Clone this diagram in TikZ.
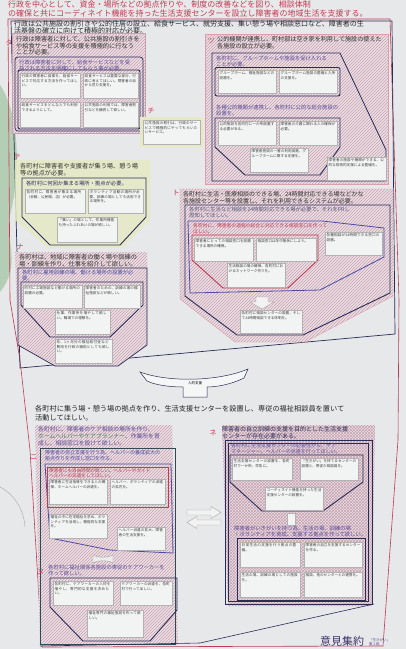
\documentclass[tikz,border=0pt]{standalone}
\usepackage{fontspec}
\setmainfont{Noto Sans CJK JP}
\XeTeXlinebreaklocale "ja"
\XeTeXlinebreakskip=0pt plus 1pt
\usetikzlibrary{patterns}
\definecolor{paper}{HTML}{E6E8E9}
\definecolor{redc}{HTML}{C23A52}
\definecolor{navy}{HTML}{2A2C58}
\definecolor{purp}{HTML}{5B4B9B}
\definecolor{bluep}{HTML}{4B4BA6}
\definecolor{hatchc}{HTML}{C4A0B0}
\definecolor{pinkbg}{HTML}{ECE0E4}
\definecolor{cellc}{HTML}{F2F3F3}
\definecolor{yel}{HTML}{E6EAC2}
\definecolor{tealc}{HTML}{2E4B55}
\definecolor{greent}{HTML}{3E7A5E}
\tikzset{
 hatch/.style={fill=pinkbg, postaction={pattern=north east lines, pattern color=hatchc}},
 checker/.style={fill=pinkbg, postaction={pattern=crosshatch, pattern color=hatchc}},
 cellf/.style={draw=gray!60, line width=0.3pt, fill=cellc, inner sep=0pt, outer sep=0pt},
 cellt/.style={inner sep=0pt, align=left, font=\fontsize{3.6}{4.3}\selectfont, text=black!75},
 hdr/.style={text=redc, font=\fontsize{8}{9}\selectfont, anchor=west, inner sep=0pt},
 stmt/.style={text=black!85, font=\fontsize{7}{6.9}\selectfont, anchor=north west, align=left, inner sep=0pt},
 sect/.style={text=black!80, font=\fontsize{6.2}{6.6}\selectfont, anchor=north west, align=left, inner sep=0pt},
 subt/.style={text=purp, font=\fontsize{5.3}{5.9}\selectfont, anchor=north west, align=left, inner sep=0pt},
 lbl/.style={text=redc, font=\fontsize{7}{7}\selectfont, inner sep=0pt},
 navyl/.style={draw=navy, line width=0.8pt},
}
\newcommand{\cbx}[6]{%
 \pgfmathsetmacro{\cbw}{#4-#2}%
 \pgfmathsetmacro{\cbh}{#5-#3}%
 \pgfmathsetmacro{\cbt}{#4-#2-3}%
 \node[cellf,minimum width=\cbw pt,minimum height=\cbh pt,anchor=north west] (#1) at (#2,#3) {};%
 \node[cellt,text width=\cbt pt,anchor=north west] (#1t) at ([xshift=1.5pt,yshift=-1.5pt]#1.north west) {#6};%
}
\begin{document}
\begin{tikzpicture}[x=1pt,y=-1pt]
\useasboundingbox (0,0) rectangle (406,649);
\fill[paper] (0,0) rectangle (406,649);
% green leaves on the left
\fill[green!45!black, opacity=0.22] (0,85) .. controls (18,110) and (22,170) .. (10,215) .. controls (5,240) and (22,265) .. (0,292) -- cycle;
\draw[gray!70, line width=0.4pt] (0,487) .. controls (15,495) and (24,510) .. (25,527);

% red header
\node[hdr] (h1) at (8,4.5) {行政を中心として、資金・場所などの拠点作りや、制度の改善などを図り、相談体制};
\node[hdr] (h2) at (8,13) {の確保と共にコーディネイト機能を持った生活支援センターを設立し障害者の地域生活を支援する。};

% red page frame
\draw[redc, line width=0.6pt] (8,19) -- (390,19) -- (399,300) -- (398,440) -- (383,646) -- (42,647) -- (30,450) -- (20,360) -- (10,300) -- cycle;
% dark upper frame
\draw[navy, line width=0.7pt] (11,21) -- (392,21) -- (395,334) -- (20,368) -- cycle;
\node[stmt] (st) at (14,20.5) {行政は公共施設の割引きや公的住居の設立、給食サービス、就労支援、集い憩う場や相談窓口など、障害者の生\\活基盤の確立に向けて積極的対応が必要。};

% ---- タ ----
\path[hatch] (12,33) rectangle (145,133);
\draw[hatchc, line width=0.4pt] (12,33) rectangle (145,133);
\node[lbl] (lta) at (9,43) {タ};
\node[sect] (tatx) at (16,36) {行政は障害者に対して、公共施設の割引きを\\や給食サービス等の支援を積極的に行なう\\ことが必要。};
\draw[navy, line width=0.7pt, rounded corners=3pt] (15,57) rectangle (143,131);
\node[subt] (tasub) at (19,59.5) {行政は障害者に対して、給食サービスなどを受\\益される方法を明確にしてもらう事が必要。};
\draw[navy, line width=0.9pt, rounded corners=2pt] (18,70) rectangle (140,129);
\cbx{ta1}{20}{73}{80}{98}{行政の障害者に食事を、給食サービスで対応する方法を作ってほしい。}
\cbx{ta2}{83}{73}{138}{98}{給食サービスは重要な部分、行政に考えてほしい。障害者の目から見た支援を。}
\cbx{ta3}{20}{102}{80}{127}{給食サービスをどんな人でも利用できるようにして。}
\cbx{ta4}{83}{102}{138}{127}{公共施設の利用では、障害者割引などを継続して欲しい。}

% ---- チ ----
\node[lbl] (lchi) at (151,111) {チ};
\fill[yel] (140,117) rectangle (203,147);
\cbx{chi1}{143}{120}{200}{144}{公共施設の割引は、行政のサービスで積極的にやってもらいたいサービス。}

% ---- ツ ----
\path[hatch] (205,34) rectangle (388,184);
\draw[redc!50, line width=0.4pt] (205,34) rectangle (388,184);
\node[lbl] (ltsu) at (211,41) {ツ};
\node[sect, font=\fontsize{6.1}{6.4}\selectfont] (tsutx) at (217,36.5) {公的機関が連携し、町村部は空き家を利用して施設の使えた\\各施設の設立が必要。};
\draw[navyl] (212,53) -- (340,53) -- (386,150) -- (386,181) -- (212,181) -- cycle;
\node[subt] (tsusub1) at (216,55.5) {各町村に、グループホームや施設を受け入れる\\ことが必要。};
\draw[navy, line width=0.9pt, rounded corners=2pt] (215,67.5) rectangle (340,96);
\cbx{tsu1}{218}{70}{276}{93}{グループホーム、福祉施設などの設置を。}
\cbx{tsu2}{279}{70}{337}{93}{グループホーム施設の整備と入所の支援を。}
\node[subt] (tsusub2) at (216,105) {各種公的機関が連携し、各町村に公的な総合施設の\\設置を。};
\draw[navy, line width=0.9pt] (215,118) -- (340,118) -- (340,147) -- (320,175) -- (245,175) -- (215,147) -- cycle;
\cbx{tsu3}{218}{121}{276}{145}{公的施設を各町村に一か所設置する必要がある。}
\cbx{tsu4}{279}{121}{337}{145}{障害者の介護に関わる人の確保が必要。}
\cbx{tsu5}{250}{148}{308}{172}{障害者施設の一層の利用促進、グループホームに関する支援を。}
\cbx{tsu6}{327}{157}{386}{180}{障害者の施設や機関ができる、公的な財政的支援による整備を。}

% ---- テ ----
\node[lbl] (lte) at (17,157) {テ};
\fill[yel, opacity=0.8] (15,160) -- (150,160) -- (150,220) -- (122,248) -- (48,248) -- (15,220) -- cycle;
\node[sect] (tetx) at (20,163) {各町村に障害者や支援者が集う場、憩う場\\等の拠点が必要。};
\draw[navy, line width=0.9pt] (22,178) -- (146,178) -- (146,217) -- (120,245) -- (50,245) -- (22,217) -- cycle;
\node[subt, text=navy] (tesub) at (26,180.5) {各町村に何回か集まる場所・拠点が必要。};
\cbx{te1}{25}{189}{85}{213}{各町村に、障害者が集まる場所（会館、公民館、店）が必要。}
\cbx{te2}{88}{189}{143}{213}{ボランティア活動の場所が必要、訓練の場としても活用できる場所を。}
\cbx{te3}{57}{217}{117}{242}{「集い」の場として、作業所機能も持ったふれあいの場が欲しい。}

% ---- ナ ----
\node[lbl] (lna) at (20,247) {ナ};
\path[hatch] (15,252) -- (147,252) -- (147,345) -- (118,366) -- (55,366) -- (18,345) -- cycle;
\node[sect] (natx) at (19,254.5) {各町村は、地域に障害者の働く場や訓練の\\場・訓練を作り、仕事を紹介して欲しい。};
\draw[navy, line width=0.7pt] (18,268) -- (147,268) -- (147,345) -- (118,366) -- (55,366) -- (18,345) -- cycle;
\node[subt, text=bluep] (nasub) at (22,270) {各町村に雇用訓練の場、働ける場所の設置が必\\要。};
\draw[navy, line width=0.9pt] (21,282) -- (143,282) -- (143,305) -- (110,337) -- (50,337) -- (21,305) -- cycle;
\cbx{na1}{23}{285}{82}{308}{町村に工場施設など働ける場所の設置の必要。}
\cbx{na2}{84}{285}{140}{308}{障害者のための、訓練の場の福祉施設などが欲しい。}
\cbx{na3}{55}{310}{110}{334}{仕事、作業所を増やして欲しい。職場での理解を。}
\cbx{na4}{55}{339}{112}{363}{年、1ヶ月分の福祉給付金など費用を行政の補助としても欲しい。}

% ---- ト ----
\node[lbl] (lto) at (176,193) {ト};
\path[hatch] (180,189) -- (393,189) -- (393,296) -- (305,342) -- (235,342) -- (180,299) -- cycle;
\draw[redc!50, line width=0.4pt] (180,189) -- (393,189) -- (393,296) -- (305,342) -- (235,342) -- (180,299) -- cycle;
\node[sect, font=\fontsize{6}{6.3}\selectfont] (totx) at (183,191.5) {各町村に生活・医療相談のできる場、24時間対応できる場などかな\\各施設センター等を設置し、それを利用できるシステムが必要。};
\draw[navy, line width=0.9pt] (185,205) -- (390,205) -- (390,293) -- (303,335) -- (237,335) -- (185,296) -- cycle;
\node[subt, text=navy!80] (tosub) at (189,207) {各町村に生活など相談を24時間対応できる場が必要で、それをPRし\\周知してほしい。};
\draw[bluep, line width=0.8pt] (188,221) -- (322,221) -- (384,228) -- (384,257) -- (320,290) -- (190,293) -- cycle;
\node[subt, text=redc, font=\fontsize{4.8}{5.4}\selectfont] (tored) at (193,223.5) {各町村に、障害者の過程の総合に対応できる相談窓口を作って\\ほしい。};
\draw[redc, line width=0.9pt] (192,235) -- (318,235) -- (318,260) -- (288,288) -- (223,288) -- (192,260) -- cycle;
\cbx{to1}{194}{238}{253}{261}{障害者にとっての相談窓口を設置できる場所の確保。}
\cbx{to2}{256}{238}{316}{261}{相談窓口は年中無休にしよう。}
\cbx{to3}{227}{263}{285}{287}{生活相談の場の確保、各町村におけるネットワーク作りを。}
\cbx{to4}{325}{232}{382}{255}{各種相談が24時間できる窓口の設置。}
\draw[gray!70, fill=white!90!gray, line width=0.4pt] (256,297) -- (268,297) -- (268,302) -- (274,302) -- (262,309) -- (250,302) -- (256,302) -- cycle;
\cbx{to5}{240}{310}{302}{333}{各町村に相談センターの設置、そして24時間相談できる体制を。}

% ---- arch ----
\draw[navy, line width=0.5pt, fill=white!60!paper] (140,372) .. controls (170,383) and (220,381) .. (248,369) -- (244,378) .. controls (230,385) and (215,387) .. (207,387) -- (207,397) -- (183,397) -- (183,387) .. controls (170,387) and (155,385) .. (147,381) -- cycle;
\node[font=\fontsize{3.5}{4}\selectfont, inner sep=0pt] (jin) at (195,383) {人的支援};

% middle statement
\node[stmt, font=\fontsize{7.2}{9}\selectfont] (mid) at (35,405.5) {各町村に集う場・憩う場の拠点を作り、生活支援センターを設置し、専従の福祉相談員を置いて\\活動してほしい。};

% ---- ニ / ヌ ----
\path[hatch] (35,425) -- (172,425) -- (178,645) -- (40,646) -- cycle;
\node[subt, font=\fontsize{5.8}{6.8}\selectfont] (nitx) at (38,426.5) {各町村に、障害者のケア相談の場所を作り、\\{\color{greent}ホームヘルパーやケアプランナー}、作業所を育\\成し、相談窓口を設けて欲しい。};
\draw[tealc, line width=0.7pt] (40,448) rectangle (175,644);
\node[lbl] (lni) at (34,457) {ニ};
\node[subt, text=bluep, font=\fontsize{5}{5.6}\selectfont] (nisub) at (45,450.5) {障害者の自立支援を行う為、ヘルパーの養成拡大の\\拠点作りを作成し窓口を作る。};
\draw[bluep, line width=0.8pt] (45,464) -- (171,464) -- (173,553) -- (110,550) -- (50,538) -- cycle;
\draw[redc, line width=0.9pt] (47,467) rectangle (168,507);
\node[subt, text=redc, font=\fontsize{4.6}{5.2}\selectfont] (nired) at (49,468.5) {障害者にも自由時間が欲しい。ヘルパーやガイド\\ヘルパーの派遣をしてほしい。};
\cbx{ni1}{49}{479}{107}{504}{障害者に生活指導をできる人の確保、ホームヘルパーの派遣を。}
\cbx{ni2}{110}{479}{165}{504}{ヘルパー、ボランティアの派遣の拡充を。}
\cbx{ni3}{49}{514}{107}{538}{福祉の中に在宅福祉を求め、ボランティアを活用し、積極的な支援を。}
\cbx{ni4}{117}{527}{165}{550}{ヘルパー派遣の拡大、障害者の生活支援を。}
\draw[gray!70, fill=white!85!gray, line width=0.4pt] (93,555) .. controls (98,558) and (108,558) .. (113,555) -- (113,563) .. controls (108,560) and (98,560) .. (93,563) -- cycle;
\node[lbl] (lnu) at (41,572) {ヌ};
\node[subt] (nusub) at (48,565) {各町村に福祉関係各施設の専従のケアワーカーを\\作って欲しい。};
\draw[navy, line width=0.9pt] (50,578) -- (177,578) -- (177,610) -- (150,641) -- (83,641) -- (50,607) -- cycle;
\cbx{nu1}{53}{581}{113}{605}{各町村に、ケアワーカーの人材を増やし、専門的な支援を求めたい。}
\cbx{nu2}{120}{581}{172}{605}{ケアワーカーの派遣を、各町村で行ってほしい。}
\cbx{nu3}{87}{610}{143}{637}{福祉専門の福祉施設を作って欲しい。}

% double arrows
\draw[gray!70, fill=white!90!gray, line width=0.4pt] (187,510) -- (211,510) -- (211,506.5) -- (221,512.5) -- (211,518.5) -- (211,515) -- (187,515) -- cycle;
\draw[gray!70, fill=white!90!gray, line width=0.4pt] (221,520) -- (197,520) -- (197,516.5) -- (187,522.5) -- (197,528.5) -- (197,525) -- (221,525) -- cycle;

% ---- ネ ----
\path[checker] (222,425) -- (375,425) -- (372,606) -- (228,606) -- cycle;
\node[lbl] (lne) at (213,433) {ネ};
\node[subt, text=navy, font=\fontsize{6}{7}\selectfont] (netx) at (222,426) {障害者の自立訓練の支援を目的とした生活支援\\センターが存在必要がある。};
\draw[navy, line width=0.7pt] (225,440) rectangle (372,604);
\draw[navy, line width=0.4pt] (228,443) rectangle (368,601);
\node[subt, font=\fontsize{5}{5.6}\selectfont] (nesub) at (231,443.5) {各町村に生活支援センターの必要性から、ケア\\マネージャー、ヘルパーの派遣を行ってほしい。};
\draw[navy, line width=0.9pt] (230,455) -- (363,455) -- (363,482) -- (323,511) -- (262,511) -- (230,482) -- cycle;
\cbx{ne1}{232}{458}{292}{480}{生活支援センターの設置を、各町村で一か所、早急に。}
\cbx{ne2}{300}{458}{358}{480}{「生きがい」を持てるセンターの設置と、専従の相談員を。}
\cbx{ne3}{265}{487}{323}{510}{コーディネイト機能を持った生活支援センターの設置を。}
\node[cellf, minimum width=8pt, minimum height=12pt, anchor=north west] (nelink) at (287,513) {};
\node[subt] (nesub2) at (234,526) {障害者がいきがいを持つ為、生活の場、訓練の場\\・ボランティアを育成、支援する拠点を作って欲しい。};
\draw[navy, line width=0.9pt] (237,538) rectangle (365,600);
\cbx{ne4}{240}{542}{300}{567}{日常生活の支援を行う拠点の整備。}
\cbx{ne5}{304}{542}{362}{567}{障害者の自立を支援するセンターを作る。}
\cbx{ne6}{240}{572}{300}{597}{生活の場、訓練の場としての施設を。}
\cbx{ne7}{304}{572}{362}{597}{相談、他のセンターとの連携を。}

% bottom line
\draw[navy, line width=0.6pt] (40,646) -- (200,643) -- (374,604);

% bottom right text
\node[anchor=west, inner sep=0pt, text=purp!70!black, font=\fontsize{11}{11}\selectfont] (foot) at (320,641) {意見集約};
\node[anchor=west, inner sep=0pt, text=purp, font=\fontsize{3.5}{4}\selectfont, align=left] (foot2) at (369,642) {「生きがい」\\第 1 組};
\end{tikzpicture}
\end{document}
